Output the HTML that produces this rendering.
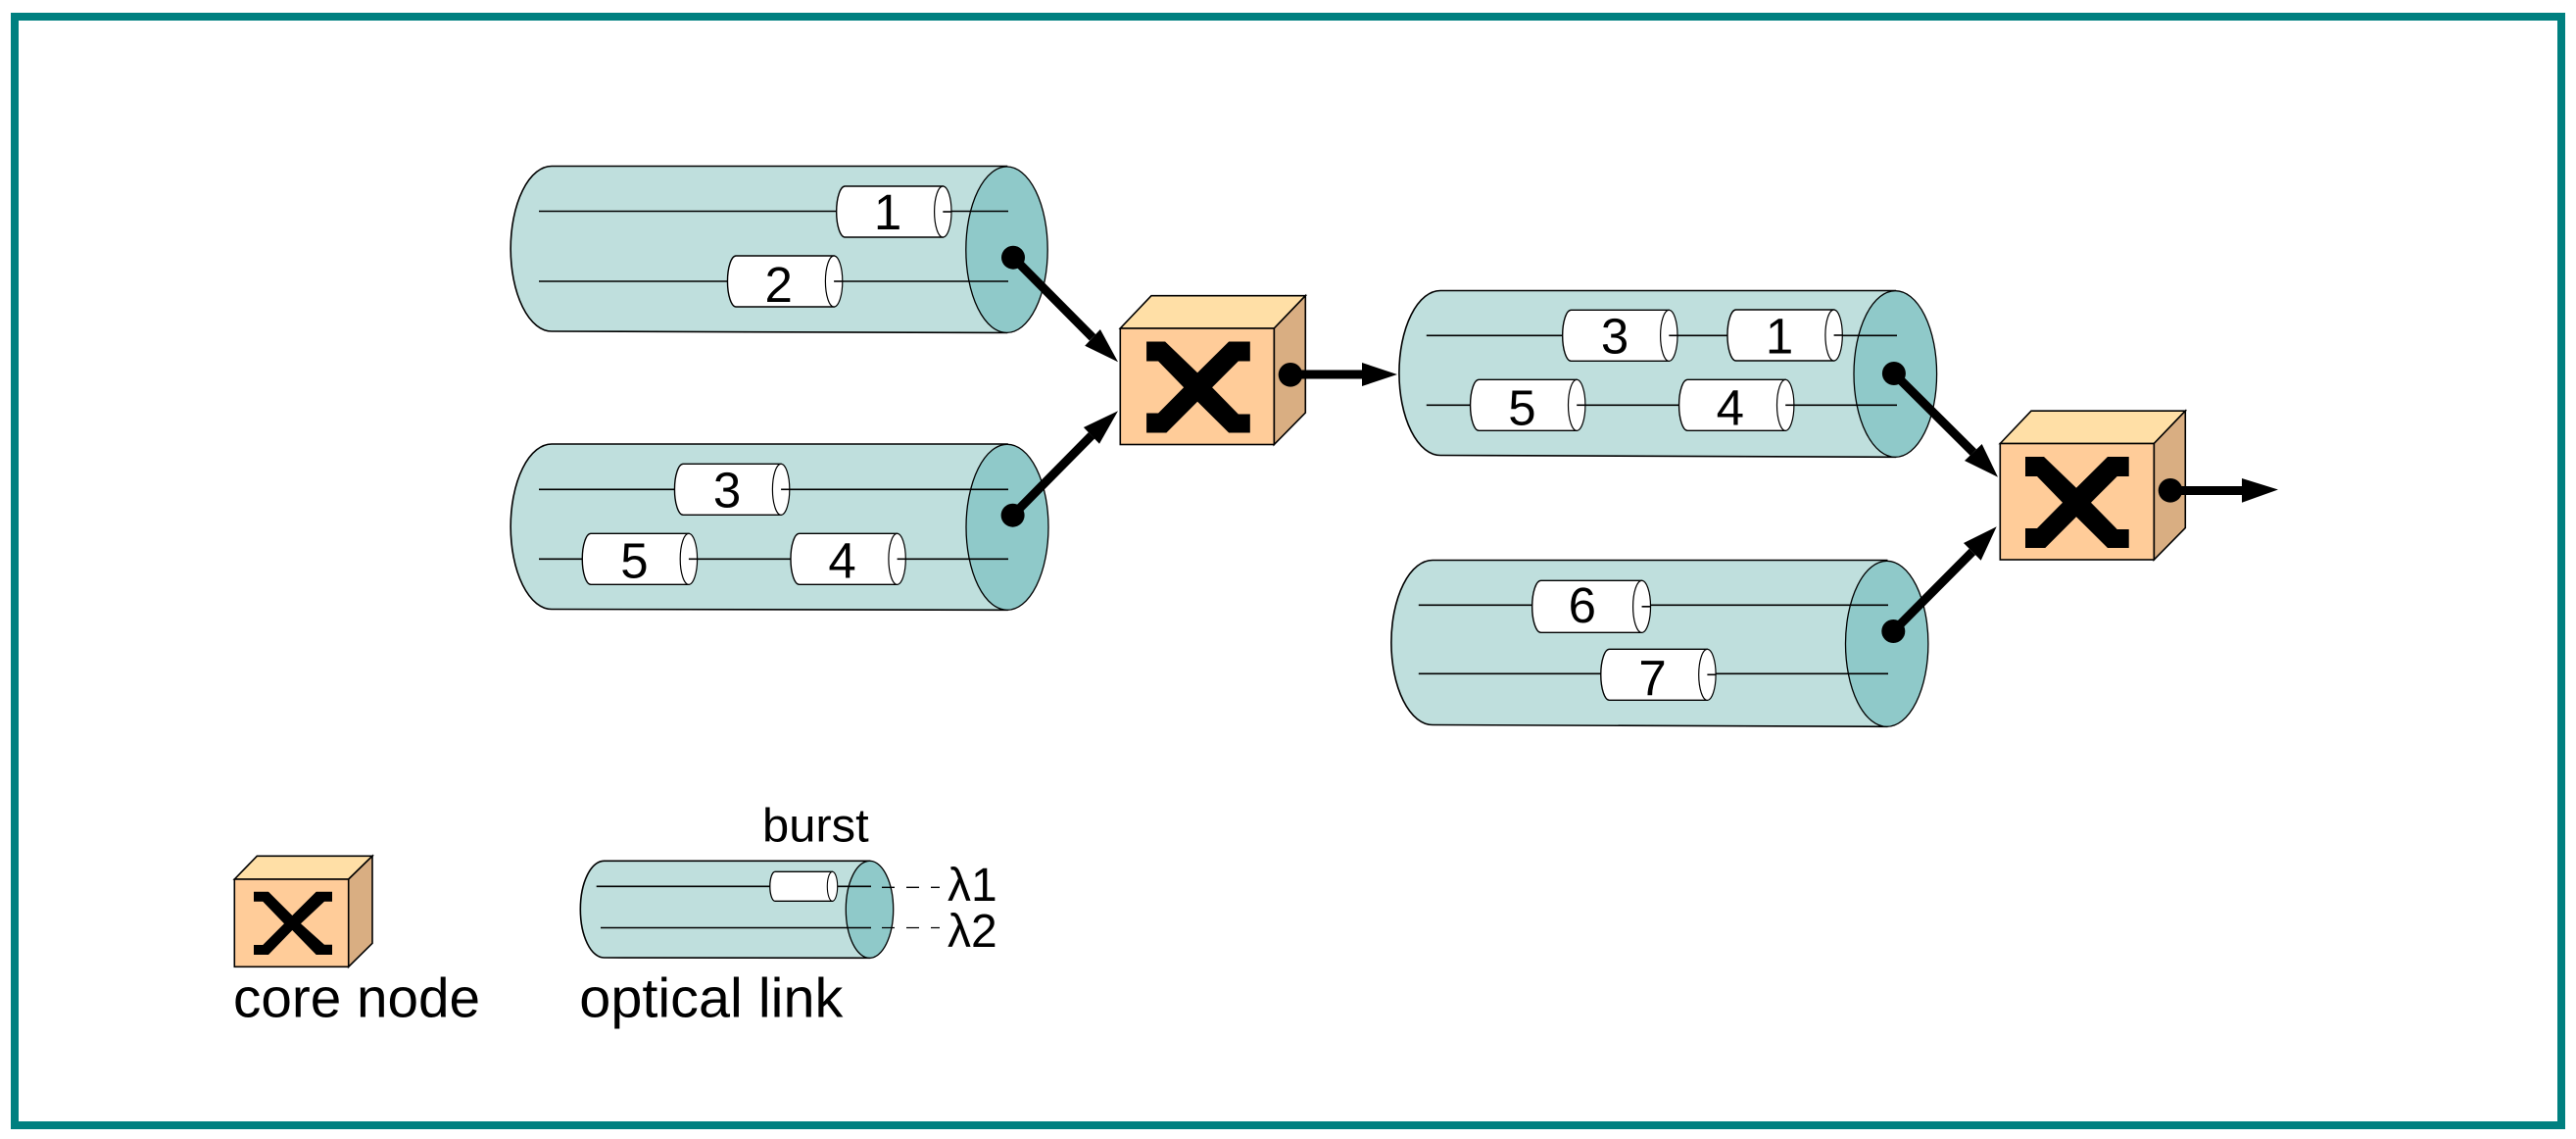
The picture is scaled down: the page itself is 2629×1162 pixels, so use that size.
<!DOCTYPE html>
<html><head><meta charset="utf-8"><style>
html,body{margin:0;padding:0;background:#fff}
svg{display:block}
text{font-family:"Liberation Sans",sans-serif;fill:#000}
.w{stroke:#000;stroke-width:1.6;fill:none}
.s{stroke:#000;stroke-width:1.6;stroke-linejoin:miter}
.d{font-size:51px;text-anchor:middle}
.t{font-size:57px}
.u{font-size:48px}
.a{stroke:#000;stroke-width:9;fill:none}
</style></head><body>
<svg width="2629" height="1162" viewBox="0 0 2629 1162" xmlns="http://www.w3.org/2000/svg">
<defs>
<g id="b">
<path d="M8.7 0H108.6V52H8.7A8.7 25.9 0 0 1 8.7 0Z" fill="#fff" stroke="#000" stroke-width="1.4"/>
<ellipse cx="108.6" cy="26" rx="8.7" ry="26" fill="#fff" stroke="#000" stroke-width="1.2"/>
<line x1="108.6" y1="26" x2="117.3" y2="26" stroke="#000" stroke-width="1.6"/>
</g>
<g id="n">
<path d="M0 0L31.7 -33.3H189L157 0Z" fill="#FFDFA6" class="s"/>
<path d="M157 0L189 -33.3V86L157 118.5Z" fill="#D9AE82" class="s"/>
<rect x="0" y="0" width="157" height="118.5" fill="#FFCC99" class="s"/>
</g>
<polygon id="x" points="25.7,14 44.7,14 77.7,45.7 109.7,14 131.4,14 131.4,34 119.4,34 92.7,60.7 119.4,88 131.4,88 131.4,107 109.7,107 77.7,75.3 46,107 25.7,107 25.7,87 37.7,87 63.7,60.7 37.7,34 25.7,34" fill="#000"/>
</defs>

<rect x="15" y="17" width="2599" height="1131" fill="#fff" stroke="#008080" stroke-width="8"/>

<!-- Cylinder A -->
<path d="M1027.5 169.5H563A41.7 84 0 0 0 563 338L1027.5 339.5Z" fill="#BFDFDD" class="s"/>
<ellipse cx="1027.5" cy="254.7" rx="41.7" ry="84.7" fill="#8FC9C9" stroke="#000" stroke-width="1.3"/>
<line class="w" x1="550" y1="215.5" x2="1029" y2="215.5"/>
<line class="w" x1="550" y1="287" x2="1029" y2="287"/>
<use href="#b" x="853.7" y="190"/>
<use href="#b" x="742.5" y="261"/>
<text class="d" x="906" y="234">1</text>
<text class="d" x="794.7" y="308">2</text>

<!-- Cylinder B -->
<path d="M1028 453H563A41.7 84 0 0 0 563 621.5L1028 622.3Z" fill="#BFDFDD" class="s"/>
<ellipse cx="1028" cy="537.8" rx="42" ry="84.5" fill="#8FC9C9" stroke="#000" stroke-width="1.3"/>
<line class="w" x1="550" y1="499.3" x2="1029" y2="499.3"/>
<line class="w" x1="550" y1="570.3" x2="1029" y2="570.3"/>
<use href="#b" x="688.5" y="473.3"/>
<use href="#b" x="594.3" y="544.3"/>
<use href="#b" x="807" y="544.3"/>
<text class="d" x="742" y="517.5">3</text>
<text class="d" x="647.4" y="589.3">5</text>
<text class="d" x="859.5" y="589.3">4</text>

<!-- Cylinder C -->
<path d="M1934.3 296.5H1470A42 83.8 0 0 0 1470 464.5L1934.3 466.3Z" fill="#BFDFDD" class="s"/>
<ellipse cx="1934.3" cy="381.5" rx="42.3" ry="84.8" fill="#8FC9C9" stroke="#000" stroke-width="1.3"/>
<line class="w" x1="1455.8" y1="342.3" x2="1936" y2="342.3"/>
<line class="w" x1="1455.8" y1="413.3" x2="1936" y2="413.3"/>
<use href="#b" x="1594.7" y="316.3"/>
<use href="#b" x="1763" y="316"/>
<use href="#b" x="1500.6" y="387.3"/>
<use href="#b" x="1713.6" y="387.3"/>
<text class="d" x="1648" y="360.7">3</text>
<text class="d" x="1816" y="360.7">1</text>
<text class="d" x="1553.4" y="433.3">5</text>
<text class="d" x="1765.8" y="433.3">4</text>

<!-- Cylinder D -->
<path d="M1925.7 571.5H1462A42 83.8 0 0 0 1462 739.5L1925.7 741.3Z" fill="#BFDFDD" class="s"/>
<ellipse cx="1925.7" cy="656.8" rx="42.2" ry="84.5" fill="#8FC9C9" stroke="#000" stroke-width="1.3"/>
<line class="w" x1="1447.8" y1="617.3" x2="1927" y2="617.3"/>
<line class="w" x1="1447.8" y1="687.3" x2="1927" y2="687.3"/>
<use href="#b" transform="translate(1563.7 592.3) scale(1.03 1.02)"/>
<use href="#b" x="1633.8" y="662.3"/>
<text class="d" x="1614.8" y="635">6</text>
<text class="d" x="1686.6" y="709.3">7</text>

<!-- Node 1 -->
<use href="#n" x="1143.3" y="335"/>
<use href="#x" x="1144.4" y="334.5"/>
<!-- Node 2 -->
<use href="#n" x="2041.3" y="452.5"/>
<use href="#x" x="2041.3" y="452"/>

<!-- Arrows -->
<circle cx="1034" cy="262.7" r="12"/>
<line class="a" x1="1034" y1="262.7" x2="1115" y2="344.3"/>
<polygon points="1141,369.3 1122.9,336 1107.2,352.7"/>
<circle cx="1033.6" cy="525.7" r="12"/>
<line class="a" x1="1033.6" y1="525.7" x2="1114" y2="444.3"/>
<polygon points="1141,419.3 1105.9,436 1122,452.7"/>
<circle cx="1317" cy="382.3" r="12.3"/>
<line class="a" x1="1317" y1="382" x2="1392" y2="382"/>
<polygon points="1426,382 1390,370 1390,394"/>
<circle cx="1932.9" cy="381" r="12"/>
<line class="a" x1="1932.9" y1="381" x2="2013.9" y2="461.5"/>
<polygon points="2039,486.7 2022.7,453 2005,470"/>
<circle cx="1932.3" cy="644" r="12"/>
<line class="a" x1="1932.3" y1="644" x2="2012.9" y2="562.9"/>
<polygon points="2037.7,537.3 2004,554 2021.7,571.7"/>
<circle cx="2215" cy="500.3" r="12.3"/>
<line class="a" x1="2215" y1="500.5" x2="2290" y2="500.5"/>
<polygon points="2325,499.5 2288,488 2288,512.7"/>

<!-- Legend node -->
<path d="M239.3 897L262.3 873.3H380L355.7 897Z" fill="#FFDFA6" class="s"/>
<path d="M355.7 897L380 873.3V962.3L355.7 986.3Z" fill="#D9AE82" class="s"/>
<rect x="239.3" y="897" width="116.4" height="89.3" fill="#FFCC99" class="s"/>
<polygon points="259,909.7 274,909.7 298.3,934 322.7,909.7 339,909.7 339,919.7 331,919.7 307,942.3 331,963.7 339,963.7 339,974 322.7,974 298.3,949 274,974 259,974 259,964 268.3,964 290,942.3 268.3,919.7 259,919.7" fill="#000"/>
<text class="t" x="238" y="1037.5" textLength="252" lengthAdjust="spacingAndGlyphs">core node</text>

<!-- Legend link -->
<path d="M887.5 878.3H616.4A24 49.2 0 0 0 616.4 977L887.5 977.3Z" fill="#BFDFDD" class="s"/>
<ellipse cx="887.5" cy="927.8" rx="24.2" ry="49.5" fill="#8FC9C9" stroke="#000" stroke-width="1.3"/>
<line class="w" x1="608.7" y1="904.3" x2="889" y2="904.3"/>
<line class="w" x1="613" y1="946.5" x2="889" y2="946.5"/>
<path d="M791 889.3H849.5V919.3H791A5.2 14.9 0 0 1 791 889.3Z" fill="#fff" stroke="#000" stroke-width="1.3"/>
<ellipse cx="849.5" cy="904.3" rx="5.2" ry="15" fill="#fff" stroke="#000" stroke-width="1.1"/>
<line x1="900" y1="905.3" x2="959" y2="905.3" stroke="#000" stroke-width="1.3" stroke-dasharray="13 12"/>
<line x1="900" y1="946.5" x2="959" y2="946.5" stroke="#000" stroke-width="1.3" stroke-dasharray="13 12"/>
<text class="t" x="591.3" y="1037.5" textLength="269" lengthAdjust="spacingAndGlyphs">optical link</text>
<text class="u" x="778" y="858.3" textLength="108.7" lengthAdjust="spacingAndGlyphs">burst</text>
<text class="u" x="967" y="919">λ1</text>
<text class="u" x="967" y="966">λ2</text>
</svg>
</body></html>
